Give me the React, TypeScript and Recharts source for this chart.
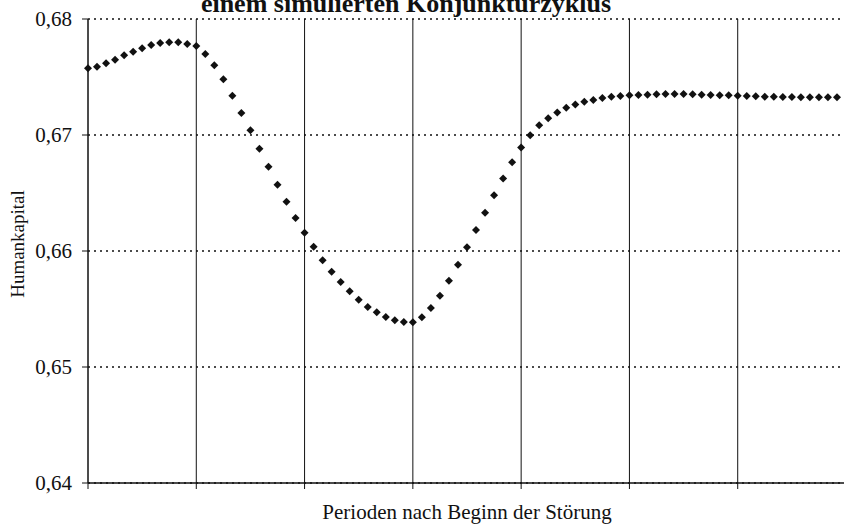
import { LineChart, Line, XAxis, YAxis, CartesianGrid } from "recharts";

// Humankapital je Periode nach Beginn der Störung
const humankapital = [
  0.67575, 0.67589, 0.67618, 0.67649, 0.67687, 0.67718, 0.67747, 0.67776, 0.67793, 0.67799,
  0.67799, 0.67784, 0.67767, 0.67698, 0.67601, 0.6748, 0.67339, 0.6719, 0.67041, 0.66882,
  0.66727, 0.66572, 0.66425, 0.66284, 0.66158, 0.66037, 0.6592, 0.65822, 0.65733, 0.65653,
  0.6558, 0.65517, 0.65472, 0.65431, 0.65403, 0.65388, 0.65385, 0.65428, 0.65509, 0.65615,
  0.65744, 0.65882, 0.66032, 0.66181, 0.6633, 0.6648, 0.66625, 0.66765, 0.66892, 0.66997,
  0.67084, 0.67145, 0.67194, 0.67234, 0.67263, 0.67286, 0.67302, 0.67319, 0.6733, 0.67336,
  0.67342, 0.67345, 0.67347, 0.67351, 0.67353, 0.67353, 0.67353, 0.67351, 0.67347, 0.67345,
  0.67342, 0.67342, 0.67339, 0.67336, 0.67334, 0.6733, 0.6733, 0.67328, 0.67328, 0.67325,
  0.67325, 0.67325, 0.67325, 0.67325,
];

const xTicks = [0, 12, 24, 36, 48, 60, 72, 84];
const yTicks = [0.64, 0.65, 0.66, 0.67, 0.68];

const title = "einem simulierten Konjunkturzyklus";
const xLabel = "Perioden nach Beginn der Störung";
const yLabel = "Humankapital";

const data = humankapital.map((wert, periode) => ({ periode, wert }));

const font = "'Liberation Serif', 'Times New Roman', serif";

function Diamond(props: any) {
  const { cx, cy, index } = props;
  if (cx == null || cy == null) return <g key={index} />;
  const r = 4;
  return (
    <path
      key={index}
      d={`M${cx},${cy - r}L${cx + r},${cy}L${cx},${cy + r}L${cx - r},${cy}Z`}
      fill="#111"
    />
  );
}

export default function App() {
  return (
    <div
      style={{
        position: "absolute",
        left: 0,
        top: 0,
        width: 844,
        height: 526,
        overflow: "hidden",
        background: "#fff",
        fontFamily: font,
      }}
    >
      <LineChart width={860} height={526} data={data} margin={{ top: 19, right: 14, bottom: 0, left: 0 }}>
        <CartesianGrid vertical={false} stroke="#111" strokeWidth={1.6} strokeDasharray="2 4" />
        <CartesianGrid horizontal={false} stroke="#111" strokeWidth={1} />
        <XAxis
          dataKey="periode"
          type="number"
          domain={[0, 84]}
          ticks={xTicks}
          tickFormatter={() => ""}
          height={43}
          tickSize={6}
          stroke="#111"
          axisLine={{ stroke: "#111", strokeWidth: 1.5 }}
          tickLine={{ stroke: "#111" }}
        />
        <YAxis
          type="number"
          domain={[0.64, 0.68]}
          ticks={yTicks}
          width={88}
          tickSize={6}
          tickMargin={10}
          tickFormatter={(v: number) => v.toFixed(2).replace(".", ",")}
          tick={{ fill: "#111", fontSize: 21, fontFamily: font }}
          axisLine={{ stroke: "#111" }}
          tickLine={{ stroke: "#111" }}
        />
        <Line
          dataKey="wert"
          stroke="none"
          dot={Diamond}
          activeDot={false}
          isAnimationActive={false}
        />
      </LineChart>
      <svg
        width={844}
        height={526}
        style={{ position: "absolute", left: 0, top: 0, pointerEvents: "none" }}
      >
        <text x={406} y={12} textAnchor="middle" fontSize={26} fontWeight="bold" fontFamily={font} fill="#111">
          {title}
        </text>
        <text x={467} y={519} textAnchor="middle" fontSize={21} fontFamily={font} fill="#111">
          {xLabel}
        </text>
        <text
          x={24}
          y={244}
          textAnchor="middle"
          fontSize={19}
          fontFamily={font}
          fill="#111"
          transform="rotate(-90 24 244)"
        >
          {yLabel}
        </text>
      </svg>
    </div>
  );
}
